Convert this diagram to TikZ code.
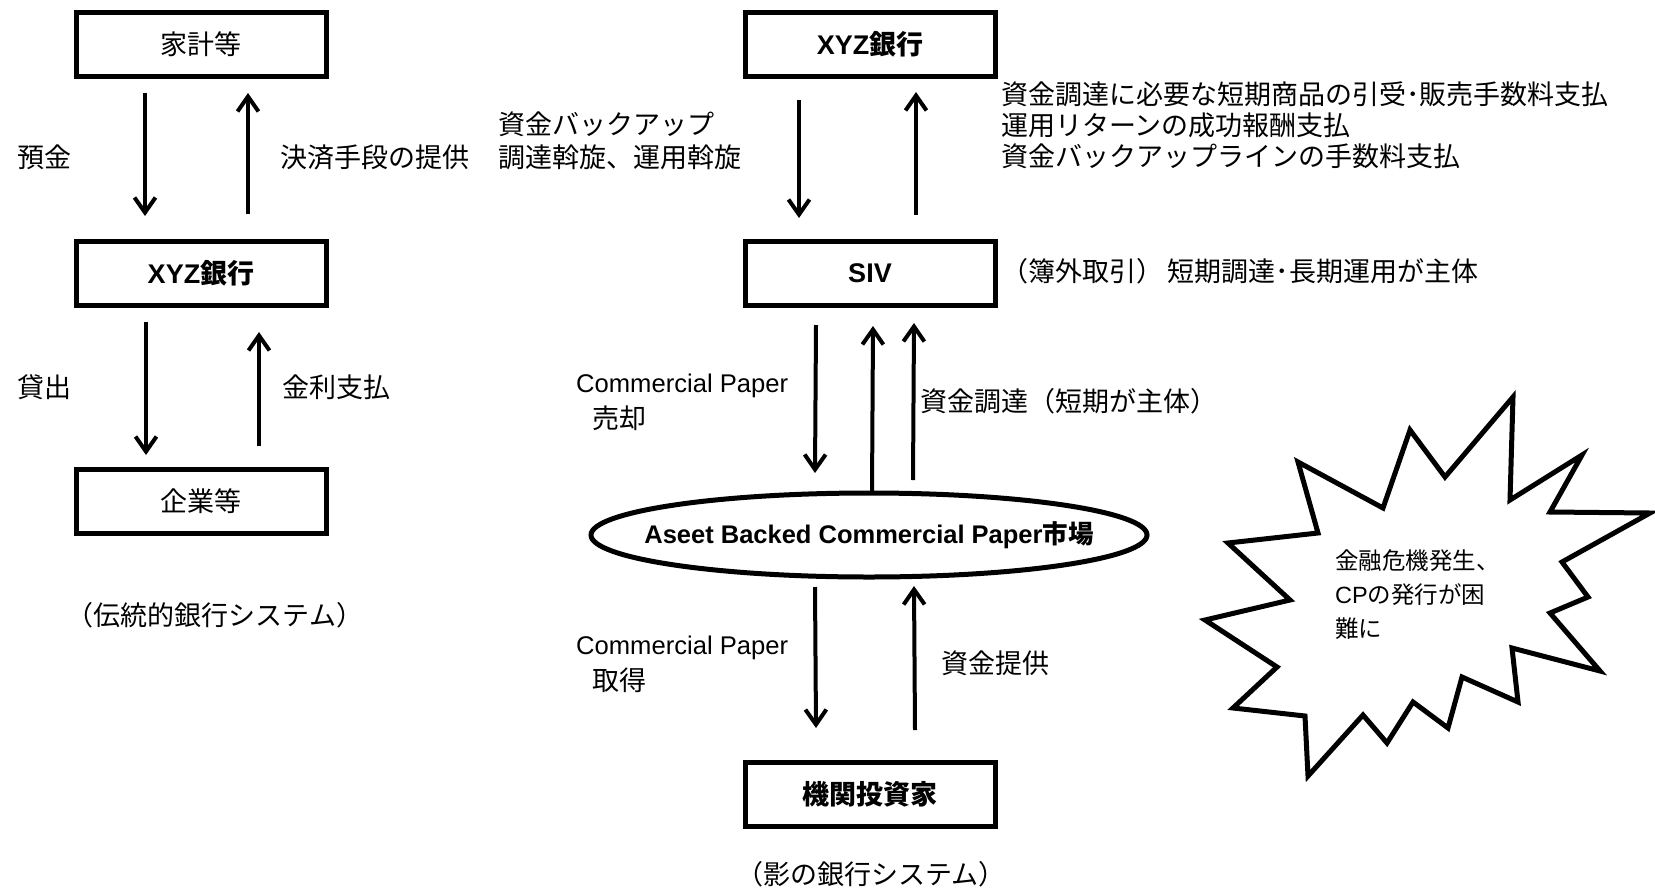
\documentclass[tikz,border=0pt]{standalone}
\usepackage{fontspec}
\setmainfont{Noto Sans CJK JP}
\newfontfamily\lat{Liberation Sans}
\usetikzlibrary{arrows.meta,shapes.geometric}
\begin{document}
\begin{tikzpicture}[x=1pt,y=-1pt,
  box/.style={draw, line width=5pt, minimum width=250pt, minimum height=64pt,
    inner sep=0pt, outer sep=0pt, font=\fontsize{27}{32}\selectfont},
  bbox/.style={box, font=\fontsize{27}{32}\selectfont\bfseries},
  arr/.style={line width=4pt, -{Straight Barb[length=15pt,width=21pt]}},
  lbl/.style={anchor=west, inner sep=0pt, align=left, font=\fontsize{27}{32}\selectfont},
  captxt/.style={inner sep=0pt, font=\fontsize{27}{32}\selectfont}
]
\useasboundingbox (0,0) rectangle (1655,892);

% ---------- traditional banking system ----------
\node[box]  (hh)   at (201,44)  {家計等};
\node[bbox] (xyzL) at (201,273) {{\lat\bfseries XYZ}銀行};
\node[box]  (corp) at (201,501) {企業等};

\draw[arr] ([xshift=-56pt,yshift=-17pt]hh.south) -- ([xshift=-56pt,yshift=25pt]xyzL.north);
\draw[arr] ([xshift=47pt,yshift=27pt]xyzL.north) -- ([xshift=47pt,yshift=-17pt]hh.south);
\draw[arr] ([xshift=-55pt,yshift=-17pt]xyzL.south) -- ([xshift=-55pt,yshift=14pt]corp.north);
\draw[arr] ([xshift=58pt,yshift=23pt]corp.north) -- ([xshift=58pt,yshift=-27pt]xyzL.south);

\node[lbl] (l1) at (17,157) {預金};
\node[lbl] (l2) at (280,157) {決済手段の提供};
\node[lbl] (l3) at (17,387) {貸出};
\node[lbl] (l4) at (282,387) {金利支払};
\node[captxt] (c1) at (215,615) {（伝統的銀行システム）};

% ---------- shadow banking system ----------
\node[bbox] (xyzR) at (870,44)  {{\lat\bfseries XYZ}銀行};
\node[bbox] (siv)  at (870,273) {{\lat\bfseries SIV}};
\node[ellipse, draw, line width=5pt, minimum width=556pt, minimum height=84pt,
      inner sep=0pt, outer sep=0pt, font=\fontsize{25.5}{30}\selectfont\bfseries]
      (abcp) at (869,535) {\makebox[0pt]{{\lat\bfseries Aseet Backed Commercial Paper}市場}};
\node[bbox] (inv)  at (870,794) {機関投資家};

\draw[arr] ([xshift=-71pt,yshift=-24pt]xyzR.south) -- ([xshift=-71pt,yshift=23pt]siv.north);
\draw[arr] ([xshift=46pt,yshift=26pt]siv.north) -- ([xshift=46pt,yshift=-16pt]xyzR.south);

\draw[arr] ([xshift=-54pt,yshift=-20pt]siv.south) -- ([xshift=-54pt,yshift=20pt]abcp.north);
\draw[arr] ([xshift=3pt]abcp.north) -- ([xshift=3pt,yshift=-21pt]siv.south);
\draw[arr] ([xshift=44pt,yshift=13pt]abcp.north) -- ([xshift=44pt,yshift=-18pt]siv.south);

\draw[arr] ([xshift=-54pt,yshift=-10pt]abcp.south) -- ([xshift=-54pt,yshift=34pt]inv.north);
\draw[arr] ([xshift=45pt,yshift=32pt]inv.north) -- ([xshift=45pt,yshift=-9pt]abcp.south);

\node[lbl, font=\fontsize{27}{33.5}\selectfont] (r1) at (498,141) {資金バックアップ\\調達斡旋、運用斡旋};
\node[lbl, font=\fontsize{27}{31}\selectfont] (r2) at (1001,125)
  {資金調達に必要な短期商品の引受･販売手数料支払\\運用リターンの成功報酬支払\\資金バックアップラインの手数料支払};
\node[lbl] (r3) at (1001,271) {（簿外取引）\,短期調達･長期運用が主体};

\node[lbl] (r4a) at (576,386) {\lat\fontsize{25.6}{32}\selectfont Commercial Paper};
\node[lbl] (r4b) at (592,418) {売却};
\node[lbl] (r5) at (920,401) {資金調達（短期が主体）};

\node[lbl] (r6a) at (576,648) {\lat\fontsize{25.6}{32}\selectfont Commercial Paper};
\node[lbl] (r6b) at (592,680) {取得};
\node[lbl] (r7) at (941,663) {資金提供};

\node[captxt] (c2) at (871,874) {（影の銀行システム）};

% ---------- explosion ----------
\draw[line width=5pt, line join=miter]
  (1298,462) -- (1383,508) -- (1410,430) -- (1445,477) -- (1513,397) --
  (1510,500) -- (1582,455) -- (1550,512) -- (1650,513) -- (1562,562) --
  (1588,597) -- (1550,613) -- (1600,671) -- (1512,648) -- (1518,702) --
  (1462,677) -- (1448,728) -- (1413,702) -- (1387,743) -- (1363,715) --
  (1308,776) -- (1305,716) -- (1233,708) -- (1277,667) -- (1205,620) --
  (1290,600) -- (1228,543) -- (1318,533) -- cycle;
\node[lbl, font=\fontsize{23.5}{34}\selectfont] (boom) at (1335,595)
  {金融危機発生、\\{\lat CP}の発行が困\\難に};
\end{tikzpicture}
\end{document}
